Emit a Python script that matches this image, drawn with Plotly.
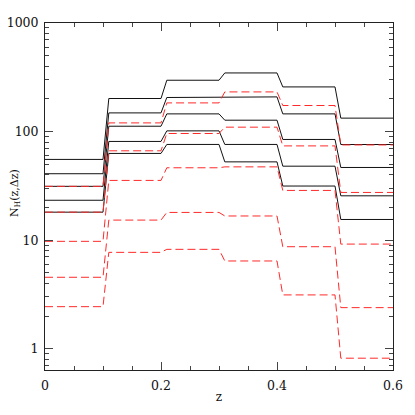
import plotly.graph_objects as go

# redshift bin edges; each step ramps over the first 0.01 of the next bin
z_edges = [0.0, 0.1, 0.2, 0.3, 0.4, 0.5, 0.6]
ramp = 0.01

# solid black curves, values per bin (top to bottom)
black_1 = [55.4, 201.6, 297.0, 346.7, 257.8, 133.0]
black_2 = [40.9, 148.6, 206.0, 208.6, 145.5, 76.0]
black_3 = [31.3, 112.0, 145.5, 127.3, 84.6, 46.7]
black_4 = [23.3, 81.1, 101.5, 76.1, 48.0, 25.6]
black_5 = [18.1, 62.9, 76.1, 52.6, 31.5, 15.5]

# dashed red curves, values per bin (top to bottom)
red_1 = [31.3, 120.2, 183.7, 231.9, 173.8, 75.3]
red_2 = [18.1, 66.5, 96.0, 109.8, 73.8, 27.5]
red_3 = [9.75, 35.5, 46.4, 47.3, 28.7, 9.2]
red_4 = [4.55, 15.3, 18.0, 16.7, 8.7, 2.39]
red_5 = [2.44, 7.72, 8.23, 6.43, 3.13, 0.818]

y_ticks = [1, 10, 100, 1000]
x_ticks = [0, 0.2, 0.4, 0.6]

SERIF = "DejaVu Serif"


def step_xy(values):
    """Turn per-bin values into a stepped line with short ramps."""
    xs, ys = [], []
    for i, v in enumerate(values):
        start = z_edges[i] + (ramp if i > 0 else 0.0)
        xs += [start, z_edges[i + 1]]
        ys += [v, v]
    return xs, ys


fig = go.Figure()

for vals in [black_1, black_2, black_3, black_4, black_5]:
    xs, ys = step_xy(vals)
    fig.add_trace(go.Scatter(
        x=xs, y=ys, mode="lines",
        line=dict(color="#111111", width=1),
        showlegend=False,
    ))

for vals in [red_1, red_2, red_3, red_4, red_5]:
    xs, ys = step_xy(vals)
    fig.add_trace(go.Scatter(
        x=xs, y=ys, mode="lines",
        line=dict(color="#ff2a2a", width=1, dash="8px,4px"),
        showlegend=False,
    ))

axis_common = dict(
    showline=True,
    linecolor="#222222",
    linewidth=1,
    mirror="allticks",
    ticks="inside",
    tickcolor="#444444",
    ticklen=8,
    tickwidth=1,
    showgrid=False,
    zeroline=False,
    automargin=False,
    tickfont=dict(family=SERIF, size=12.5, color="#111111"),
)

# the page body adds an 8px offset, so margins are shifted to compensate
fig.update_layout(
    width=407,
    height=407,
    paper_bgcolor="white",
    plot_bgcolor="white",
    margin=dict(l=37, r=22, t=15, b=45),
    xaxis=dict(
        range=[0, 0.6],
        tickvals=x_ticks,
        ticktext=[str(t) for t in x_ticks],
        minor=dict(dtick=0.05, ticks="inside", ticklen=4, tickcolor="#444444"),
        ticklabelstandoff=4,
        title=dict(text="z", font=dict(family=SERIF, size=12, color="#111111"), standoff=0),
        **axis_common,
    ),
    yaxis=dict(
        type="log",
        range=[-0.196, 3],
        tickvals=y_ticks,
        ticktext=[str(t) for t in y_ticks],
        minor=dict(dtick="D1", ticks="inside", ticklen=4, tickcolor="#444444"),
        ticklabelstandoff=3,
        **axis_common,
    ),
)

# y title as an annotation so it sits just inside the left edge
fig.add_annotation(
    text="N<sub>H</sub>(z,Δz)",
    xref="paper", yref="paper",
    x=-0.086, y=0.51,
    xanchor="center", yanchor="middle",
    textangle=-90,
    showarrow=False,
    font=dict(family=SERIF, size=11, color="#111111"),
)

fig.write_html("out.html")
